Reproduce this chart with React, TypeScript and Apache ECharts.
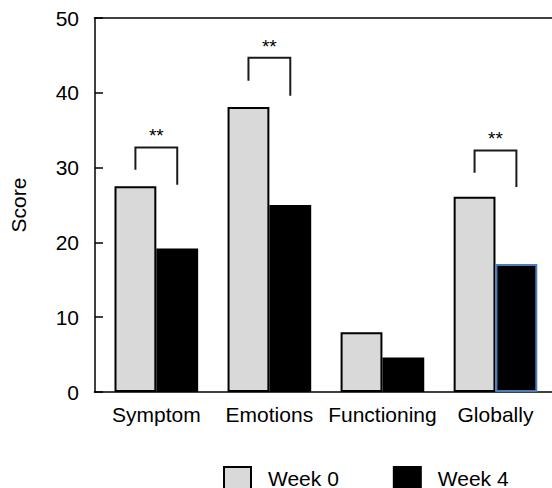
import React, { useEffect, useRef } from "react";
import * as echarts from "echarts";

const categories = ["Symptom", "Emotions", "Functioning", "Globally"];
const week0 = [27.5, 38.1, 8.0, 26.1];
const week4 = [19.2, 25.0, 4.6, 17.1];
const yTicks = { min: 0, max: 50, interval: 10 };
// brackets: [category index, top, left leg end, right leg end]
const bracketCats = [0, 1, 3];
const bracketTop = [32.7, 44.7, 32.3];
const bracketLeft = [29.7, 41.6, 29.3];
const bracketRight = [27.7, 39.6, 27.4];
const bracketLabel = "**";

const BAR_RATIO = 0.37;
const FONT = "Liberation Sans, Arial, sans-serif";
const FS = 21;
const GRID = { left: 98.6, top: 18, right: -2.6, bottom: 96 };
const Y_AXIS_SHIFT = 4.8;
const W = 552;
const H = 488;

export default function App() {
  const ref = useRef<HTMLDivElement>(null);
  useEffect(() => {
    if (!ref.current) return;
    const chart = echarts.init(ref.current, null, { renderer: "svg" });
    const bracketData = bracketCats.map((c, i) => [c, bracketTop[i], bracketLeft[i], bracketRight[i]]);
    const axisX = GRID.left - Y_AXIS_SHIFT;
    const topY = GRID.top;
    const botY = H - GRID.bottom;
    const frameStyle = { stroke: "#000", lineWidth: 1.5 };
    chart.setOption({
      animation: false,
      textStyle: { fontFamily: FONT },
      grid: { ...GRID, show: false },
      graphic: [
        { type: "line", shape: { x1: axisX, y1: topY, x2: W, y2: topY }, style: frameStyle, z: 10 },
        { type: "line", shape: { x1: axisX, y1: botY, x2: GRID.left + 1, y2: botY }, style: frameStyle, z: 10 },
      ],
      legend: {
        data: ["Week 0", "Week 4"],
        left: 223,
        top: 466,
        padding: 0,
        icon: "rect",
        itemWidth: 27,
        itemHeight: 22,
        itemGap: 54,
        textStyle: { fontSize: FS, color: "#000", fontFamily: FONT, padding: [0, 0, 0, 12], lineHeight: 22 },
      },
      xAxis: {
        type: "category",
        data: categories,
        axisLine: { lineStyle: { color: "#000", width: 1.5 } },
        axisTick: { show: false },
        axisLabel: { fontSize: FS, color: "#000", margin: 12, interval: 0, fontFamily: FONT },
      },
      yAxis: {
        type: "value",
        min: yTicks.min,
        max: yTicks.max,
        interval: yTicks.interval,
        offset: Y_AXIS_SHIFT,
        name: "Score",
        nameLocation: "middle",
        nameGap: 66,
        nameTextStyle: { fontSize: FS, color: "#000", fontFamily: FONT },
        axisLine: { show: true, lineStyle: { color: "#000", width: 1.5 } },
        axisTick: { show: true, inside: true, length: 8, lineStyle: { color: "#000", width: 1.5 } },
        axisLabel: { fontSize: FS, color: "#000", margin: 16, fontFamily: FONT },
        splitLine: { show: false },
      },
      series: [
        {
          name: "Week 0",
          type: "bar",
          data: week0,
          barWidth: BAR_RATIO * 100 + "%",
          barGap: "0%",
          itemStyle: { color: "#d9d9d9", borderColor: "#000", borderWidth: 2 },
        },
        {
          name: "Week 4",
          type: "bar",
          data: week4.map((v, i) =>
            i === 3 ? { value: v, itemStyle: { borderColor: "#4a7ebb" } } : v
          ),
          barWidth: BAR_RATIO * 100 + "%",
          barGap: "0%",
          itemStyle: { color: "#000", borderColor: "#000", borderWidth: 2 },
        },
        {
          type: "custom",
          name: "brackets",
          data: bracketData,
          encode: { x: 0, y: 1 },
          z: 5,
          renderItem: (params: any, api: any) => {
            const idx = api.value(0);
            const top = api.coord([idx, api.value(1)]);
            const l = api.coord([idx, api.value(2)]);
            const r = api.coord([idx, api.value(3)]);
            const band = api.size([1, 0])[0];
            const off = (band * BAR_RATIO) / 2;
            const xl = top[0] - off;
            const xr = top[0] + off;
            return {
              type: "group",
              children: [
                {
                  type: "polyline",
                  shape: { points: [[xl, l[1]], [xl, top[1]], [xr, top[1]], [xr, r[1]]] },
                  style: { stroke: "#1a1a1a", lineWidth: 2, fill: null },
                },
                {
                  type: "text",
                  style: {
                    text: bracketLabel,
                    x: top[0],
                    y: top[1] - 2,
                    align: "center",
                    verticalAlign: "bottom",
                    fontSize: 19,
                    fontFamily: FONT,
                    fill: "#000",
                  },
                },
              ],
            };
          },
        },
      ],
    });
    return () => chart.dispose();
  }, []);
  return (
    <div
      ref={ref}
      style={{ position: "fixed", left: 0, top: 0, width: W, height: H, background: "#fff" }}
    />
  );
}
